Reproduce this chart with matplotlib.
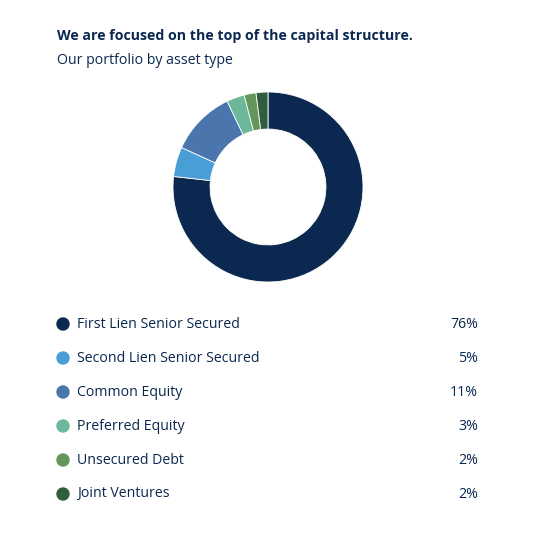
import matplotlib.pyplot as plt
from matplotlib.patches import Circle

categories = ["First Lien Senior Secured", "Second Lien Senior Secured", "Common Equity",
              "Preferred Equity", "Unsecured Debt", "Joint Ventures"]
values = [76, 5, 11, 3, 2, 2]
colors = ["#0a2850", "#4a9ed6", "#4a75ad", "#6db89b", "#64955a", "#2f5e3f"]
text_color = "#0a2850"

W, H = 558, 534
fig = plt.figure(figsize=(W/100, H/100), dpi=100)
fig.patch.set_facecolor("white")
plt.rcParams['font.family'] = ['Open Sans', 'DejaVu Sans']

def fx(x): return x / W
def fy(y): return 1 - y / H

fig.text(fx(57), fy(36), "We are focused on the top of the capital structure.", fontsize=10.2,
         fontweight="bold", color=text_color, va="center")
fig.text(fx(57), fy(61), "Our portfolio by asset type", fontsize=10.2, color=text_color, va="center")

cx, cy, r = 268, 187, 95
ax = fig.add_axes([fx(cx - r), fy(cy + r), 2*r/W, 2*r/H])
ax.pie(values, colors=colors, startangle=90, counterclock=False, radius=1,
       wedgeprops=dict(width=0.39, edgecolor="white", linewidth=0.6))
ax.set_xlim(-1, 1); ax.set_ylim(-1, 1)
ax.set_aspect("equal")

lax = fig.add_axes([0, 0, 1, 1])
lax.set_xlim(0, W); lax.set_ylim(H, 0); lax.axis("off")
for i, (c, v, col) in enumerate(zip(categories, values, colors)):
    y = 324 + 34 * i
    lax.add_patch(Circle((63, y), 6, color=col))
    lax.text(77, y, c, fontsize=10.2, color=text_color, va="center")
    lax.text(478, y, f"{v}%", fontsize=10.2, color=text_color, va="center", ha="right")

fig.savefig("out.png", dpi=100)
